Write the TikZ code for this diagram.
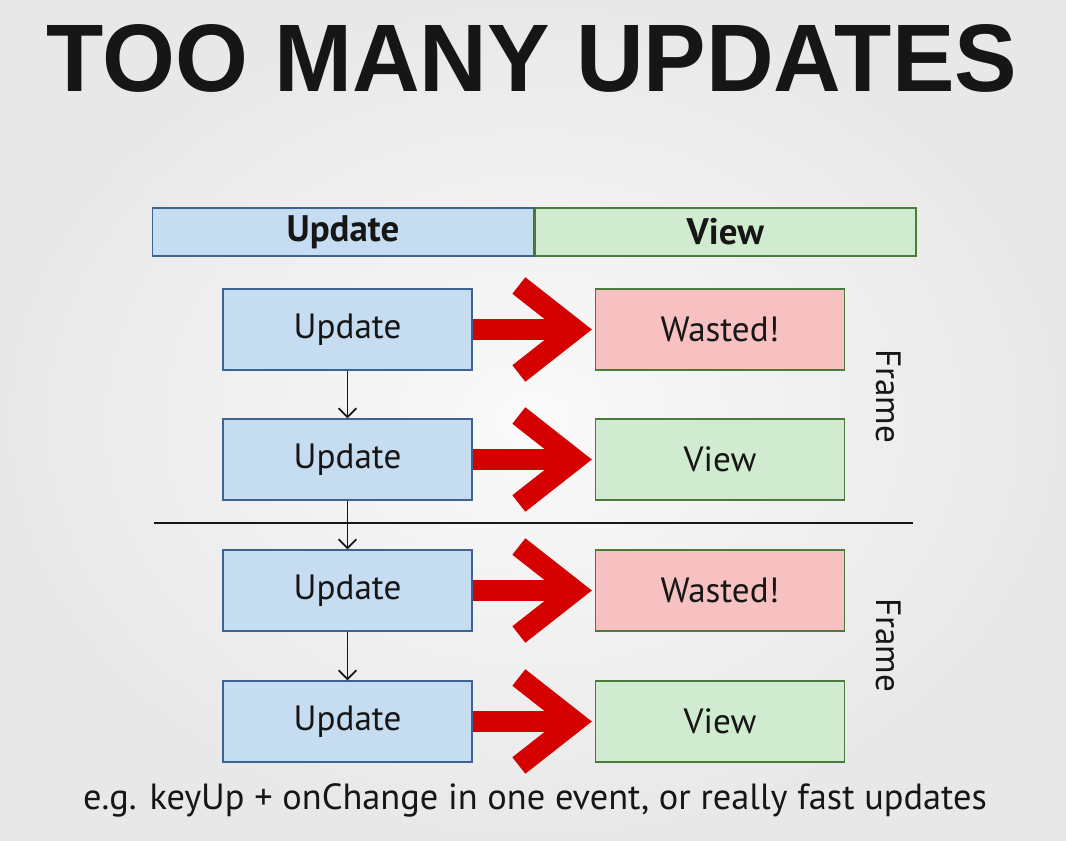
\documentclass[tikz,border=0pt]{standalone}
\usepackage{graphicx}
\usepackage{fontspec}
\setmainfont{PT Sans}
\newfontfamily\titlefont{Liberation Sans}
\usepackage{tikz}
\usetikzlibrary{arrows.meta,positioning}

\definecolor{updfill}{HTML}{C6DDF1}
\definecolor{upddraw}{HTML}{3F6391}
\definecolor{viewfill}{HTML}{D1EBD0}
\definecolor{viewdraw}{HTML}{4A7B3A}
\definecolor{wastefill}{HTML}{F8C1C1}
\definecolor{arrred}{HTML}{D50000}
\definecolor{inktext}{HTML}{161616}

\begin{document}
\begin{tikzpicture}[x=0.02cm, y=-0.02cm,
    box/.style={rectangle, draw, line width=0.8pt, minimum width=4.98cm, minimum height=1.62cm, inner sep=0pt, text=inktext, font=\fontsize{20}{24}\selectfont},
    upd/.style={box, fill=updfill, draw=upddraw},
    viewbox/.style={box, fill=viewfill, draw=viewdraw},
    waste/.style={box, fill=wastefill, draw=viewdraw},
    hdr/.style={rectangle, draw, line width=0.8pt, minimum width=7.62cm, minimum height=0.96cm, inner sep=0pt, text=inktext, font=\bfseries\fontsize{21}{24}\selectfont},
    bigarr/.style={draw=arrred, line width=0.42cm, -{Straight Barb[length=1.12cm, width=1.76cm]}, shorten >=0.06cm},
    smallarr/.style={draw=inktext, line width=1pt, -{Straight Barb[length=5pt, width=10pt]}}
]
    \useasboundingbox (0,0) rectangle (1066,841);
    \shade[inner color=white!98!black, outer color=white!91!black] (0,0) rectangle (1066,841);

    \node[anchor=base, inner sep=0pt, text=inktext] (title) at (532,92) {\resizebox{19.4cm}{1.34cm}{\titlefont\bfseries TOO MANY UPDATES}};

    \node[hdr, fill=updfill, draw=upddraw] (hdrupd) at (343,232) {Update};
    \node[hdr, fill=viewfill, draw=viewdraw, right=0pt of hdrupd] (hdrview) {View};

    \node[upd] (u1) at (347.5,329.5) {Update};
    \node[waste] (w1) at (720,329.5) {Wasted!};
    \node[upd] (u2) at (347.5,459.5) {Update};
    \node[viewbox] (v2) at (720,459.5) {View};
    \node[upd] (u3) at (347.5,590.5) {Update};
    \node[waste] (w3) at (720,590.5) {Wasted!};
    \node[upd] (u4) at (347.5,721.5) {Update};
    \node[viewbox] (v4) at (720,721.5) {View};

    \node[rotate=-90, text=inktext, font=\fontsize{20}{24}\selectfont] (frame1) at (889,396) {Frame};
    \node[rotate=-90, text=inktext, font=\fontsize{20}{24}\selectfont] (frame2) at (889,645) {Frame};

    % frame boundary
    \coordinate (sepL) at (154,523);
    \coordinate (sepR) at (913,523);
    \draw[draw=inktext, line width=1.1pt] (sepL) -- (sepR);

    \foreach \a/\b in {u1/w1, u2/v2, u3/w3, u4/v4}
        \draw[bigarr] (\a) -- (\b);

    \draw[smallarr] (u1) -- (u2);
    \draw[smallarr] (u2) -- (u3);
    \draw[smallarr] (u3) -- (u4);

    \node[text=inktext, font=\fontsize{20.7}{25}\selectfont] (note) at (535,800) {e.g. keyUp + onChange in one event, or really fast updates};
\end{tikzpicture}
\end{document}
